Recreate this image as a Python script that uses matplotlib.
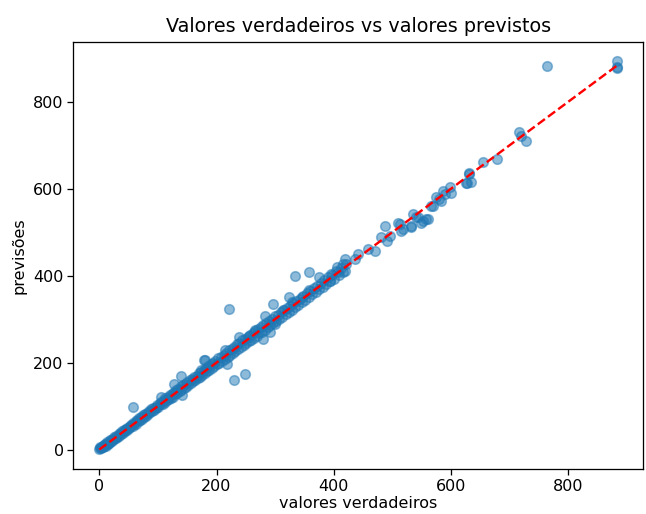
import numpy as np
import matplotlib
matplotlib.use('Agg')
import matplotlib.pyplot as plt

# valores verdadeiros (y_test) e previsoes do modelo
y_true = [0, 1, 2, 3, 4, 5, 6, 7, 8, 9, 10, 11, 12, 13, 14, 15, 16, 18, 19, 20, 22, 23, 25, 26, 28, 29,
          31, 33, 34, 36, 37, 39, 40, 42, 44, 45, 47, 48, 50, 52, 53, 55, 57, 58, 60, 62, 63, 65, 67, 68,
          70, 72, 73, 75, 77, 78, 80, 82, 84, 85, 87, 89, 90, 92, 94, 96, 97, 99,
          101, 103, 105, 106, 108, 110, 112, 113, 115, 117, 119, 121, 122, 124, 126, 128, 130, 131, 133,
          135, 137, 139, 140, 142, 144, 146, 148, 150, 152, 154, 156, 158, 160, 162, 164, 166, 168, 170,
          172, 174, 176, 178, 180, 182, 184, 186, 188, 190, 192, 194, 196, 198,
          200, 202, 205, 207, 209, 212, 214, 216, 219, 221, 223, 226, 228, 230, 232, 235, 237, 239, 241,
          244, 246, 248, 250, 253, 255, 257, 259, 262, 264, 266, 269, 271, 273, 276, 278, 280, 283, 285,
          287, 290, 292, 295, 297, 300, 302, 305, 307, 310, 312, 315, 318, 320, 323, 326, 328, 331, 334,
          336, 339, 342, 345, 348, 351, 354, 357, 360, 363, 366, 369, 372, 375, 378, 381, 384, 387, 390,
          393, 397, 400, 404, 408, 412, 416, 420,
          57, 127, 139, 105, 141, 178, 218, 215, 181, 173, 221, 229, 249, 238, 255, 266, 280, 291, 283,
          297, 300, 314, 323, 328, 345, 357, 334, 357, 374, 393, 405, 407, 396, 419, 416, 419, 436, 441,
          458, 470, 481, 487, 490, 495, 509, 518, 512, 515, 532, 532, 535, 540, 543, 549, 552, 557, 560,
          566, 569, 574, 580, 583, 586, 589, 598, 600, 625, 627, 630, 634, 631, 654, 679, 716, 719, 727,
          764, 882, 883, 882]

y_pred = [1, 4, 6, 3, 7, 5, 9, 6, 10, 8, 12, 9, 14, 12, 17, 13, 15, 21, 17, 22, 20, 25, 24, 29, 26, 31,
          30, 36, 32, 38, 35, 42, 38, 44, 43, 48, 45, 50, 49, 55, 51, 57, 54, 61, 59, 65, 60, 67, 66, 72,
          68, 74, 71, 79, 76, 81, 78, 85, 82, 88, 86, 93, 88, 95, 91, 99, 95, 102,
          99, 108, 104, 110, 105, 114, 109, 118, 113, 120, 116, 126, 119, 128, 122, 133, 127, 136, 130,
          139, 134, 146, 137, 148, 141, 150, 145, 156, 149, 160, 152, 163, 157, 168, 160, 170, 165, 177,
          168, 179, 172, 184, 176, 188, 180, 192, 184, 196, 187, 200, 192, 204,
          197, 210, 200, 212, 204, 218, 209, 222, 214, 228, 218, 232, 222, 236, 227, 242, 231, 246, 236,
          251, 240, 255, 244, 258, 249, 263, 253, 268, 257, 272, 262, 278, 267, 282, 271, 286, 276, 291,
          281, 296, 286, 300, 291, 306, 296, 310, 301, 316, 305, 320, 312, 326, 317, 331, 322, 336, 328,
          342, 333, 347, 339, 352, 345, 360, 351, 365, 357, 372, 362, 377, 369, 384, 374, 390, 380, 396,
          387, 402, 393, 411, 401, 418, 409, 426,
          98, 151, 170, 121, 125, 205, 197, 228, 205, 182, 323, 161, 174, 258, 262, 274, 255, 270, 308,
          335, 289, 320, 350, 339, 350, 366, 400, 408, 396, 388, 419, 408, 404, 438, 427, 411, 438, 450,
          461, 457, 488, 515, 480, 492, 522, 507, 519, 503, 511, 515, 541, 534, 534, 522, 526, 530, 530,
          560, 561, 580, 576, 572, 595, 587, 603, 591, 614, 614, 633, 616, 635, 662, 668, 731, 721, 710,
          882, 893, 877, 879]

y_true = np.array(y_true)
y_pred = np.array(y_pred)

fig = plt.figure(figsize=(646/115, 514/115), dpi=115)
ax = fig.add_axes([0.1135, 0.0875, 0.8819, 0.8313])

ax.scatter(y_true, y_pred, alpha=0.5)
ax.plot([y_true.min(), y_true.max()], [y_true.min(), y_true.max()], 'r--')
ax.tick_params(pad=2.5)
ax.set_xlabel('valores verdadeiros', labelpad=1.5)
ax.set_ylabel('previsões')
ax.set_title('Valores verdadeiros vs valores previstos')

fig.savefig('out.png', dpi=115)
